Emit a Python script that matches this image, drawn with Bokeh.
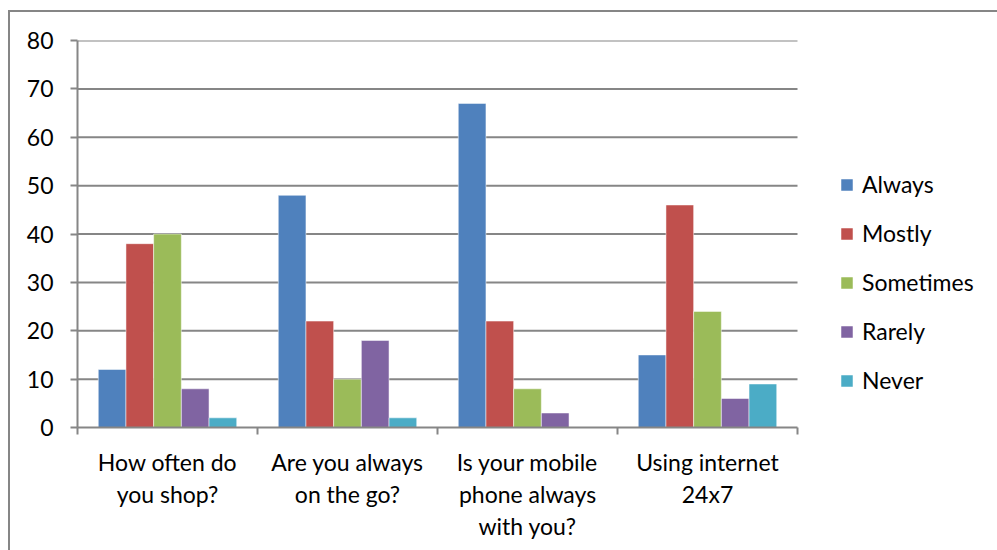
from bokeh.plotting import figure
from bokeh.models import Range1d, FixedTicker, Legend, LegendItem
from bokeh.embed import file_html
from bokeh.resources import INLINE

categories = ["How often do\nyou shop?", "Are you always\non the go?",
              "Is your mobile\nphone always\nwith you?", "Using internet\n24x7"]
series = ["Always", "Mostly", "Sometimes", "Rarely", "Never"]
always = [12, 48, 67, 15]
mostly = [38, 22, 22, 46]
sometimes = [40, 10, 8, 24]
rarely = [8, 18, 3, 6]
never = [2, 2, 0, 9]
values = [always, mostly, sometimes, rarely, never]
colors = ["#4F81BD", "#C0504D", "#9BBB59", "#8064A2", "#4BACC6"]
y_ticks = [0, 10, 20, 30, 40, 50, 60, 70, 80]

FONT = "Lato"
GRAY = "#868686"
FS = "23px"

ncat = len(categories)
# frame spans from plot-area left to the right edge; the plot area itself is 720px wide
frame_left, frame_right, cat_px = 67, 989, 180
x_end = (frame_right - frame_left) / cat_px

p = figure(width=989, height=540, output_backend="svg", toolbar_location=None,
           x_range=Range1d(0, x_end), y_range=Range1d(0, 80),
           min_border_left=67, min_border_top=28, min_border_bottom=125,
           min_border_right=0)
p.margin = (10, 0, 0, 8)
p.styles = {"border-top": "2px solid #868686", "border-left": "2px solid #868686"}
p.outline_line_color = None
p.background_fill_color = "white"
p.border_fill_color = "white"

# horizontal gridlines limited to the plot area (0 .. ncat)
grid_y = [t for t in y_ticks if t > 0]
p.segment(x0=[0] * len(grid_y), x1=[ncat] * len(grid_y), y0=grid_y, y1=grid_y,
          line_color=GRAY, line_width=2)
p.xgrid.grid_line_color = None
p.ygrid.grid_line_color = None

n = len(series)
gap = 1.5
w = 1.0 / (n + gap)
renderers = []
for j, (name, vals, col) in enumerate(zip(series, values, colors)):
    xs = [i + 0.5 + (j - (n - 1) / 2) * w for i in range(ncat)]
    r = p.vbar(x=xs, top=vals, width=w, bottom=0, fill_color=col,
               line_color="white", line_alpha=0.5, line_width=1)
    renderers.append(r)

# y axis
p.yaxis.ticker = FixedTicker(ticks=y_ticks)
p.yaxis.major_tick_out = 7
p.yaxis.major_tick_in = 0
p.yaxis.minor_tick_line_color = None
p.yaxis.axis_line_color = GRAY
p.yaxis.axis_line_width = 2
p.yaxis.major_tick_line_color = GRAY
p.yaxis.major_tick_line_width = 2
p.yaxis.major_label_text_font = FONT
p.yaxis.major_label_text_font_size = FS
p.yaxis.major_label_text_color = "black"
p.yaxis.major_label_standoff = 17

# x axis: labels at centers, minor ticks at category boundaries
centers = [i + 0.5 for i in range(ncat)]
bounds = [i for i in range(ncat + 1)]
p.xaxis.ticker = FixedTicker(ticks=centers, minor_ticks=bounds)
p.xaxis.bounds = (0, ncat)
p.xaxis.major_label_overrides = {c: lab for c, lab in zip(centers, categories)}
p.xaxis.major_tick_line_color = None
p.xaxis.major_tick_out = 0
p.xaxis.major_tick_in = 0
p.xaxis.minor_tick_out = 7
p.xaxis.minor_tick_in = 0
p.xaxis.minor_tick_line_color = GRAY
p.xaxis.minor_tick_line_width = 2
p.xaxis.axis_line_color = GRAY
p.xaxis.axis_line_width = 2
p.xaxis.major_label_text_font = FONT
p.xaxis.major_label_text_font_size = FS
p.xaxis.major_label_text_color = "black"
p.xaxis.major_label_text_line_height = 1.15
p.xaxis.major_label_standoff = 13

legend = Legend(items=[LegendItem(label=s, renderers=[r]) for s, r in zip(series, renderers)],
                location=(762, 33), orientation="vertical",
                glyph_width=15, glyph_height=15, label_height=20, label_width=10,
                label_standoff=8, spacing=21, padding=0, margin=0,
                border_line_color=None, background_fill_alpha=0,
                label_text_font=FONT, label_text_font_size=FS,
                label_text_color="black")
p.add_layout(legend, "center")

open("out.html", "w").write(file_html(p, INLINE))
